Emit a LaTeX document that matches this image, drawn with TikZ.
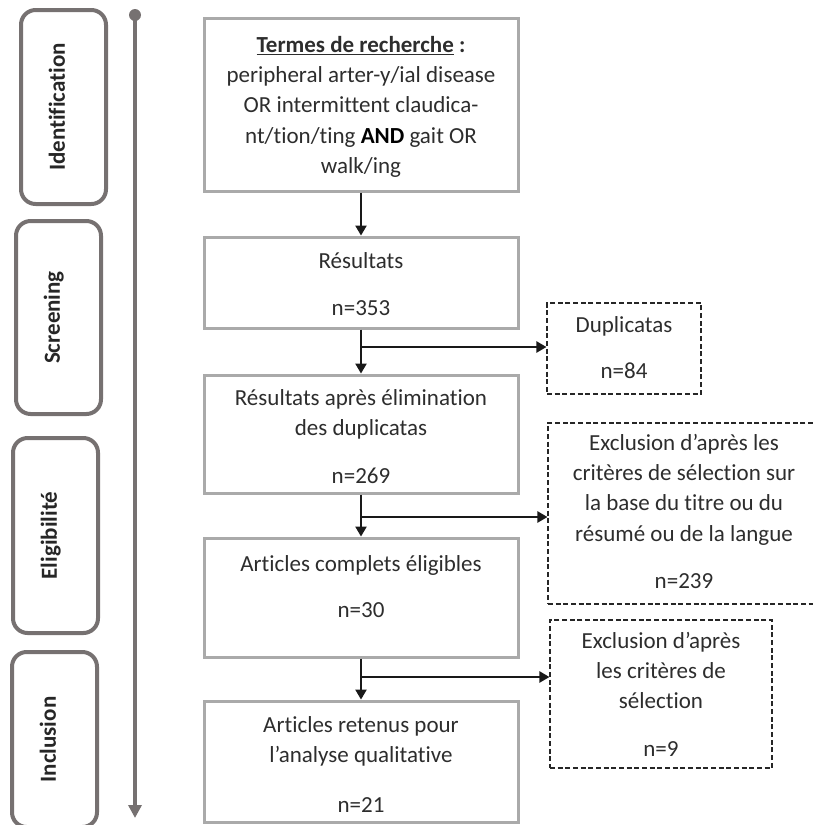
\documentclass[tikz,border=0pt]{standalone}
\usepackage{fontspec}
\setmainfont{Carlito}[Ligatures=NoCommon]
\usetikzlibrary{arrows.meta,calc}
\newdimen\upx \upx=0.75pt
\newcommand{\boxcontent}[4]{\parbox[c][#2\upx][t]{#1\upx}{\centering\rule{0pt}{#3\upx}#4}}
\definecolor{tlgray}{RGB}{118,113,113}
\definecolor{boxgray}{RGB}{170,170,170}
\definecolor{txtgray}{RGB}{45,45,45}
\tikzset{
  phase/.style={draw=tlgray, line width=3pt, rounded corners=11pt, rotate=90,
    font=\fontsize{17.25pt}{20pt}\selectfont\bfseries, text=black!85,
    text height=0.7em, text depth=0.5em, inner sep=0pt, minimum height=63.75pt},
  mainbox/.style={draw=boxgray, line width=2.25pt, inner sep=0pt, text=txtgray},
  dashbox/.style={draw=black!85, line width=0.9pt, dash pattern=on 3.75pt off 2pt, inner sep=0pt, text=txtgray},
  flow/.style={draw=black!90, line width=1.1pt, -{Triangle[length=7.5pt,width=8.5pt]}},
  tline/.style={draw=tlgray, line width=3pt, -{Triangle[length=9.75pt,width=9.75pt]}}
}
\begin{document}
\begin{tikzpicture}[x=0.75pt, y=-0.75pt, font=\fontsize{17.25pt}{22.75pt}\selectfont]
\useasboundingbox (0,0) rectangle (813,825);
% phase boxes
\node[phase, minimum width=145.5pt] (ident) at (63.5,107) {Identification};
\node[phase, minimum width=144.75pt] (screen) at (58.5,317.5) {Screening};
\node[phase, minimum width=146.25pt] (elig) at (55.5,535.5) {Eligibilité};
\node[phase, minimum width=131.25pt] (incl) at (54.5,739.5) {Inclusion};
% timeline
\coordinate (tl0) at (135,15);
\coordinate (tl1) at (135,818);
\draw[tline] (tl0) -- (tl1);
\fill[tlgray] (tl0) circle (4.5pt);
% main boxes
\node[mainbox] (b1) at (361,104.5) {\boxcontent{314}{173}{34}{\textbf{\underline{Termes de recherche} :}\\peripheral arter-y/ial disease\\OR intermittent claudica-\\nt/tion/ting \textbf{\color{black}AND} gait OR\\walk/ing}};
\node[mainbox] (b2) at (361,282.5) {\boxcontent{314}{91}{31}{Résultats\\[13pt]n=353}};
\node[mainbox] (b3) at (361,434) {\boxcontent{314}{118}{30}{Résultats après élimination\\des duplicatas\\[13pt]n=269}};
\node[mainbox] (b4) at (361,597.5) {\boxcontent{314}{119}{33}{Articles complets éligibles\\[12pt]n=30}};
\node[mainbox] (b5) at (361,761.5) {\boxcontent{314}{121}{31}{Articles retenus pour\\l’analyse qualitative\\[15pt]n=21}};
% exclusion boxes
\node[dashbox] (dup) at (624,348.5) {\boxcontent{154}{91}{29}{Duplicatas\\[12pt]n=84}};
\node[dashbox] (e1) at (684,513.5) {\boxcontent{272}{181}{27}{Exclusion d’après les\\critères de sélection sur\\la base du titre ou du\\résumé ou de la langue\\[13pt]n=239}};
\node[dashbox] (e2) at (661,694) {\boxcontent{222}{148}{28}{Exclusion d’après\\les critères de\\sélection\\[13pt]n=9}};
% connectors
\draw[flow] (b1.south) -- (b2.north);
\draw[flow] (b2.south) -- (b3.north);
\draw[flow] (b3.south) -- (b4.north);
\draw[flow] (b4.south) -- (b5.north);
\coordinate (k1) at (361,347);
\coordinate (k2) at (361,517);
\coordinate (k3) at (361,677);
\draw[flow] (k1) -- (k1 -| dup.west);
\draw[flow] (k2) -- (k2 -| e1.west);
\draw[flow] (k3) -- (k3 -| e2.west);
\end{tikzpicture}
\end{document}
